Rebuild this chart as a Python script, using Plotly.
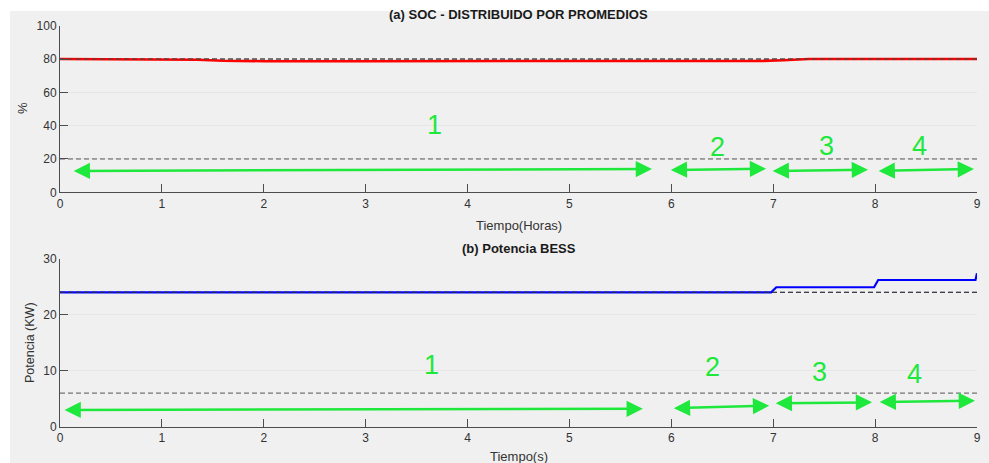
import plotly.graph_objects as go

# ---- data ----
soc_t = [0, 1.15, 1.35, 1.6, 2.0, 3.0, 4.0, 5.0, 6.0, 6.9, 7.1, 7.35, 8.0, 9.0]
soc_v = [80, 80, 79.6, 79.0, 78.7, 78.7, 78.7, 78.8, 78.8, 78.9, 79.3, 80, 80, 80]
soc_limits = [80, 20]

p_t = [0, 6.98, 7.03, 7.99, 8.03, 8.985, 9.0]
p_v = [24, 24, 24.9, 24.9, 26.2, 26.2, 27.4]
p_limits = [24, 6]

t_range = [0, 9]

# arrows: (x_start, y_start, x_end, y_end)
soc_arrows_x0 = [0.12, 5.98, 6.98, 8.02]
soc_arrows_y0 = [12.8, 13.4, 12.8, 12.8]
soc_arrows_x1 = [5.81, 6.93, 7.93, 8.97]
soc_arrows_y1 = [14.0, 14.2, 13.6, 14.0]
soc_labels = ["1", "2", "3", "4"]
soc_label_x = [3.68, 6.45, 7.52, 8.44]
soc_label_y = [40.3, 27.4, 27.7, 27.7]

p_arrows_x0 = [0.03, 6.01, 7.01, 8.03]
p_arrows_y0 = [3.0, 3.3, 4.2, 4.4]
p_arrows_x1 = [5.72, 6.96, 7.97, 8.98]
p_arrows_y1 = [3.2, 3.75, 4.35, 4.65]
p_labels = ["1", "2", "3", "4"]
p_label_x = [3.65, 6.40, 7.45, 8.39]
p_label_y = [11.0, 10.7, 9.8, 9.5]

W, H = 989, 463
GREEN = "#1ee83c"
FONT = "Liberation Sans, Arial, sans-serif"

fig = go.Figure()

DASH = "5px,3px"
# dashed limit lines
for v in soc_limits:
    fig.add_trace(go.Scatter(x=t_range, y=[v, v], mode="lines",
                             line=dict(color="#555555", width=1, dash=DASH),
                             xaxis="x", yaxis="y", showlegend=False, hoverinfo="skip"))
fig.add_trace(go.Scatter(x=soc_t, y=soc_v, mode="lines", line=dict(color="#ff0000", width=2.6),
                         xaxis="x", yaxis="y", showlegend=False))
fig.add_trace(go.Scatter(x=t_range, y=[soc_limits[0]] * 2, mode="lines",
                         line=dict(color="#444444", width=1, dash=DASH),
                         xaxis="x", yaxis="y", showlegend=False, hoverinfo="skip"))

for v in p_limits:
    fig.add_trace(go.Scatter(x=t_range, y=[v, v], mode="lines",
                             line=dict(color="#555555", width=1, dash=DASH),
                             xaxis="x2", yaxis="y2", showlegend=False, hoverinfo="skip"))
fig.add_trace(go.Scatter(x=p_t, y=p_v, mode="lines", line=dict(color="#0000ff", width=2.2),
                         xaxis="x2", yaxis="y2", showlegend=False))
fig.add_trace(go.Scatter(x=t_range, y=[p_limits[0]] * 2, mode="lines",
                         line=dict(color="#333344", width=1, dash=DASH),
                         xaxis="x2", yaxis="y2", showlegend=False, hoverinfo="skip"))

annotations = []


def add_arrows(x0s, y0s, x1s, y1s, xr, yr):
    for a, b, c, d in zip(x0s, y0s, x1s, y1s):
        annotations.append(dict(x=c, y=d, ax=a, ay=b, xref=xr, yref=yr, axref=xr, ayref=yr,
                                text="", showarrow=True, arrowhead=2, arrowside="end+start",
                                arrowsize=1.3, arrowwidth=2.5, arrowcolor=GREEN,
                                startarrowhead=2, startarrowsize=1.3))


def add_labels(xs, ys, labels, xr, yr):
    for x, y, t in zip(xs, ys, labels):
        annotations.append(dict(x=x, y=y, xref=xr, yref=yr, text=t, showarrow=False,
                                font=dict(family=FONT, size=27, color=GREEN)))


add_arrows(soc_arrows_x0, soc_arrows_y0, soc_arrows_x1, soc_arrows_y1, "x", "y")
add_labels(soc_label_x, soc_label_y, soc_labels, "x", "y")
add_arrows(p_arrows_x0, p_arrows_y0, p_arrows_x1, p_arrows_y1, "x2", "y2")
add_labels(p_label_x, p_label_y, p_labels, "x2", "y2")


def px_x(p):
    return p / W


def px_y(p):
    return 1 - p / H


cx = px_x(518.5)
annotations += [
    dict(text="<b>(a) SOC - DISTRIBUIDO POR PROMEDIOS</b>", x=cx, y=px_y(15), xref="paper", yref="paper",
         showarrow=False, font=dict(family=FONT, size=13, color="#1a1a1a"), xanchor="center", yanchor="middle"),
    dict(text="<b>(b) Potencia BESS</b>", x=cx, y=px_y(248), xref="paper", yref="paper",
         showarrow=False, font=dict(family=FONT, size=13, color="#1a1a1a"), xanchor="center", yanchor="middle"),
    dict(text="Tiempo(Horas)", x=cx, y=px_y(225), xref="paper", yref="paper",
         showarrow=False, font=dict(family=FONT, size=13, color="#333333"), xanchor="center", yanchor="middle"),
    dict(text="Tiempo(s)", x=cx, y=px_y(456), xref="paper", yref="paper",
         showarrow=False, font=dict(family=FONT, size=13, color="#333333"), xanchor="center", yanchor="middle"),
    dict(text="%", x=px_x(22), y=px_y(108), xref="paper", yref="paper", textangle=-90,
         showarrow=False, font=dict(family=FONT, size=13, color="#333333"), xanchor="center", yanchor="middle"),
    dict(text="Potencia (KW)", x=px_x(30), y=px_y(343), xref="paper", yref="paper", textangle=-90,
         showarrow=False, font=dict(family=FONT, size=12.5, color="#333333"), xanchor="center", yanchor="middle"),
]

axis_common = dict(showline=True, linecolor="#4d4d4d", linewidth=1, ticks="inside", ticklen=8,
                   tickcolor="#4d4d4d", tickfont=dict(family=FONT, size=12, color="#333333"),
                   zeroline=False, automargin=False)

fig.update_layout(
    width=W, height=H, margin=dict(l=0, r=0, t=0, b=0),
    paper_bgcolor="white", plot_bgcolor="white", showlegend=False,
    xaxis=dict(domain=[px_x(60), px_x(977)], range=t_range, anchor="y", dtick=1, showgrid=False, **axis_common),
    yaxis=dict(domain=[px_y(192.3), px_y(25.7)], range=[0, 100], anchor="x", dtick=20,
               showgrid=True, gridcolor="#e6e6e6", **axis_common),
    xaxis2=dict(domain=[px_x(60), px_x(977)], range=t_range, anchor="y2", dtick=1, showgrid=False, **axis_common),
    yaxis2=dict(domain=[px_y(426.7), px_y(258.7)], range=[0, 30], anchor="x2", dtick=10,
                showgrid=True, gridcolor="#e6e6e6", **axis_common),
    annotations=annotations,
    shapes=[dict(type="rect", xref="paper", yref="paper", x0=px_x(10), x1=1, y0=0, y1=px_y(11),
                 fillcolor="#f0f0f0", line=dict(width=0), layer="below")],
)

fig.write_html("out.html", config={"displayModeBar": False},
               post_script="document.body.style.margin='0';document.body.style.overflow='hidden';")
